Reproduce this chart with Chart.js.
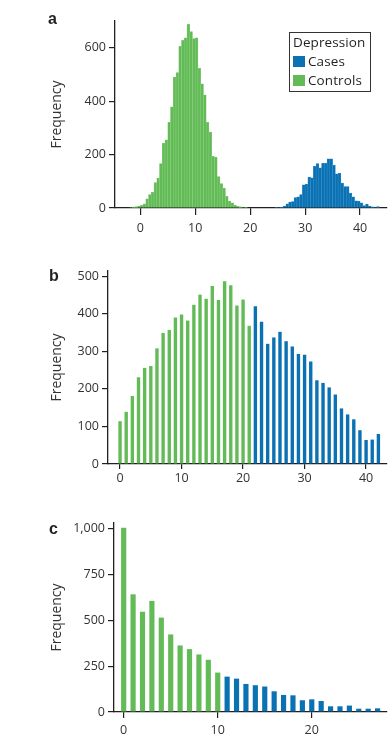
<!DOCTYPE html>
<html>
<head>
<meta charset="utf-8">
<title>Depression score histograms</title>
<script src="https://cdn.jsdelivr.net/npm/chart.js@4.4.1/dist/chart.umd.min.js"></script>
<style>
  body { margin: 0; background: #fff; font-family: 'Open Sans', sans-serif; color: #231f20; }
  #wrap { position: relative; width: 391px; height: 742px; overflow: hidden; }
  canvas { position: absolute; left: 0; }
  .tag { position: absolute; font: bold 16px 'Liberation Sans', Arial, sans-serif; line-height: 16px; }
  #legend { position: absolute; left: 289px; top: 32px; width: 82px; height: 60px; box-sizing: border-box;
            border: 1px solid #333; font-size: 13.5px; line-height: 19px; padding-left: 3px; letter-spacing: 0.1px; }
  #legend .sw { display: inline-block; width: 12px; height: 11px; margin-right: 3px; vertical-align: -1px; }
</style>
</head>
<body>
<div id="wrap">
  <canvas id="chartA" width="391" height="245" style="top:0px"></canvas>
  <canvas id="chartB" width="391" height="260" style="top:240px"></canvas>
  <canvas id="chartC" width="391" height="247" style="top:495px"></canvas>
  <div class="tag" style="left:48px;top:11px">a</div>
  <div class="tag" style="left:49px;top:268px">b</div>
  <div class="tag" style="left:49px;top:521px">c</div>
  <div id="legend">
    <div>Depression</div>
    <div><span class="sw" style="background:#0a71b3"></span>Cases</div>
    <div><span class="sw" style="background:#63bb57"></span>Controls</div>
  </div>
</div>
<script>
var GREEN = '#63bb57';
var BLUE = '#0a71b3';

// panel a - half point bins (bin centres)
var controlsA_bins = [-1.75, -1.25, -0.75, -0.25, 0.25, 0.75, 1.25, 1.75, 2.25, 2.75, 3.25, 3.75, 4.25, 4.75,
  5.25, 5.75, 6.25, 6.75, 7.25, 7.75, 8.25, 8.75, 9.25, 9.75, 10.25, 10.75, 11.25, 11.75, 12.25, 12.75,
  13.25, 13.75, 14.25, 14.75, 15.25, 15.75, 16.25, 16.75, 17.25, 17.75, 18.25, 18.75, 19.25];
var controlsA_freq = [2, 3, 5, 6, 10, 16, 34, 50, 60, 95, 112, 166, 243, 255, 321, 379, 490, 507, 605, 628,
  637, 688, 660, 634, 637, 523, 465, 424, 321, 284, 193, 191, 118, 91, 75, 44, 26, 19, 11, 6, 4, 2, 1];
var casesA_bins = [24.75, 25.25, 25.75, 26.25, 26.75, 27.25, 27.75, 28.25, 28.75, 29.25, 29.75, 30.25, 30.75,
  31.25, 31.75, 32.25, 32.75, 33.25, 33.75, 34.25, 34.75, 35.25, 35.75, 36.25, 36.75, 37.25, 37.75, 38.25,
  38.75, 39.25, 39.75, 40.25, 40.75, 41.25, 41.75, 42.25, 42.75, 43.25];
var casesA_freq = [1, 2, 3, 7, 16, 22, 24, 39, 42, 50, 87, 90, 116, 113, 156, 166, 150, 167, 167, 184,
  184, 161, 128, 130, 93, 80, 80, 56, 42, 27, 26, 19, 9, 15, 7, 4, 2, 5];
var xTicksA = [0, 10, 20, 30, 40];
var yTicksA = [0, 200, 400, 600];

// panel b
var controlsB_scores = [0, 1, 2, 3, 4, 5, 6, 7, 8, 9, 10, 11, 12, 13, 14, 15, 16, 17, 18, 19, 20, 21];
var controlsB_freq = [114, 139, 181, 231, 256, 261, 308, 349, 357, 390, 398, 382, 424, 451, 440, 474, 437,
  487, 476, 422, 438, 368];
var casesB_scores = [22, 23, 24, 25, 26, 27, 28, 29, 30, 31, 32, 33, 34, 35, 36, 37, 38, 39, 40, 41, 42];
var casesB_freq = [420, 379, 320, 337, 352, 327, 313, 293, 291, 273, 223, 216, 204, 185, 148, 132, 119, 90,
  64, 65, 80];
var xTicksB = [0, 10, 20, 30, 40];
var yTicksB = [0, 100, 200, 300, 400, 500];

// panel c
var controlsC_scores = [0, 1, 2, 3, 4, 5, 6, 7, 8, 9, 10];
var controlsC_freq = [1005, 642, 547, 606, 515, 423, 363, 343, 314, 285, 215];
var casesC_scores = [11, 12, 13, 14, 15, 16, 17, 18, 19, 20, 21, 22, 23, 24, 25, 26, 27];
var casesC_freq = [193, 182, 153, 146, 139, 113, 93, 91, 64, 69, 60, 31, 31, 35, 18, 18, 20];
var xTicksC = [0, 10, 20];
var yTicksC = [0, 250, 500, 750, 1000];
var yTickLabelsC = ['0', '250', '500', '750', '1,000'];

Chart.defaults.font.family = "'Open Sans', sans-serif";
Chart.defaults.font.size = 12.5;
Chart.defaults.color = '#333';

function pairs(xs, ys) {
  return xs.map(function(x, i) { return { x: x, y: ys[i] }; });
}

function makeHist(id, p) {
  var axisCol = '#231f20';
  return new Chart(document.getElementById(id), {
    type: 'bar',
    data: {
      datasets: [
        { label: 'Controls', data: pairs(p.ctrlX, p.ctrlY), backgroundColor: GREEN,
          borderColor: p.edge ? '#8fd283' : GREEN, borderWidth: p.edge ? 0.5 : 0 },
        { label: 'Cases', data: pairs(p.caseX, p.caseY), backgroundColor: BLUE,
          borderColor: p.edge ? '#3d93c9' : BLUE, borderWidth: p.edge ? 0.5 : 0 }
      ]
    },
    options: {
      responsive: false,
      animation: false,
      datasets: { bar: { grouped: false, barPercentage: p.barPct, categoryPercentage: 1 } },
      layout: { padding: { top: p.padTop, right: 4, left: 0, bottom: 0 } },
      plugins: { legend: { display: false }, tooltip: { enabled: false } },
      scales: {
        x: {
          type: 'linear', min: p.xMin, max: p.xMax, offset: false,
          afterBuildTicks: function(s) { s.ticks = p.xTicks.map(function(v) { return { value: v }; }); },
          afterFit: function(s) { s.height = p.xHeight; },
          grid: { display: true, drawOnChartArea: false, drawTicks: true, tickLength: p.xTickLen,
                  color: axisCol, lineWidth: 1.2, offset: false },
          border: { display: true, color: axisCol, width: 1.3 },
          ticks: { padding: p.xPad, maxRotation: 0, autoSkip: false }
        },
        y: {
          min: 0, max: p.yMax,
          afterBuildTicks: function(s) { s.ticks = p.yTicks.map(function(v) { return { value: v }; }); },
          afterFit: function(s) { s.width = p.yWidth; },
          grid: { display: true, drawOnChartArea: false, drawTicks: true, tickLength: 6,
                  color: axisCol, lineWidth: 1.2 },
          border: { display: true, color: axisCol, width: 1.3 },
          ticks: {
            padding: 3,
            callback: function(v) {
              var k = p.yTicks.indexOf(v);
              return p.yLabels ? p.yLabels[k] : String(v);
            }
          },
          title: { display: true, text: 'Frequency', font: { size: 14 }, color: '#333',
                   padding: { top: 49, bottom: 0 } }
        }
      }
    }
  });
}

makeHist('chartA', {
  ctrlX: controlsA_bins, ctrlY: controlsA_freq, caseX: casesA_bins, caseY: casesA_freq,
  xMin: -4.6, xMax: 44.9, xTicks: xTicksA, yMax: 700, yTicks: yTicksA,
  padTop: 21, yWidth: 115, xHeight: 37, xTickLen: 7, xPad: 6, barPct: 1, edge: true
});
makeHist('chartB', {
  ctrlX: controlsB_scores, ctrlY: controlsB_freq, caseX: casesB_scores, caseY: casesB_freq,
  xMin: -1.96, xMax: 43.4, xTicks: xTicksB, yMax: 514, yTicks: yTicksB,
  padTop: 31, yWidth: 108, xHeight: 36, xTickLen: 5, xPad: 2, barPct: 0.55, edge: false
});
makeHist('chartC', {
  ctrlX: controlsC_scores, ctrlY: controlsC_freq, caseX: casesC_scores, caseY: casesC_freq,
  xMin: -1.03, xMax: 28, xTicks: xTicksC, yMax: 1031, yTicks: yTicksC, yLabels: yTickLabelsC,
  padTop: 28, yWidth: 114, xHeight: 30, xTickLen: 6, xPad: 5, barPct: 0.55, edge: false
});
</script>
</body>
</html>
